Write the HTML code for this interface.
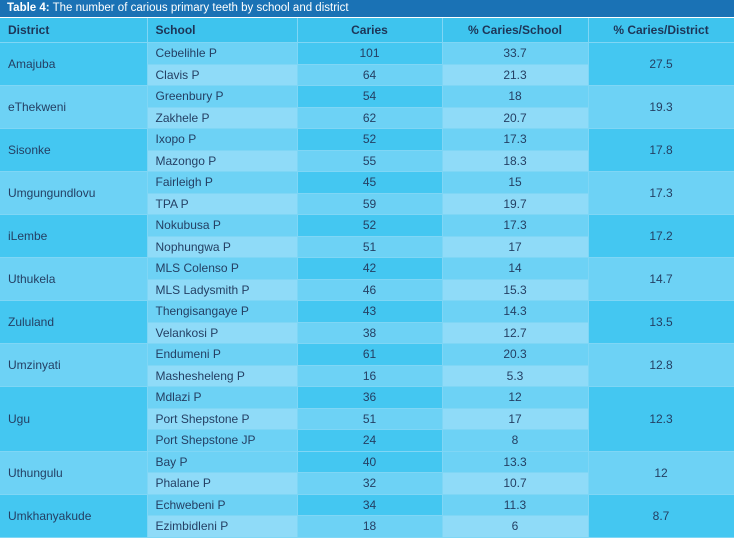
<!DOCTYPE html>
<html><head><meta charset="utf-8"><style>
body{margin:0;width:734px;height:539px;background:#fff;overflow:hidden;font-family:"Liberation Sans",sans-serif;}
#title{position:absolute;left:0;top:0;width:734px;height:17px;background:#1a72b5;color:#fff;font-size:11.5px;line-height:17px;padding-left:7px;box-sizing:border-box;}
table{position:absolute;left:0;top:18px;border-collapse:collapse;table-layout:fixed;width:734px;font-size:12px;color:#243f63;}
td,th{padding:0;border-bottom:1px solid #7fd6f5;border-right:1px solid #7fd6f5;height:20.5px;overflow:hidden;white-space:nowrap}
th{height:24px;background:#3ec4ee;font-weight:bold;color:#1d3557;text-align:center}
th.l{text-align:left;padding-left:8px}
.l{text-align:left;padding-left:8px}
.c{text-align:center}
.dk{background:#44c7f1}.lt{background:#6dd2f5}.xl{background:#8fdbf8}
</style></head><body>
<div id="title"><b>Table 4:</b> The number of carious primary teeth by school and district</div>
<table>
<colgroup><col style="width:147px"><col style="width:150px"><col style="width:145px"><col style="width:146px"><col style="width:146px"></colgroup>
<thead><tr><th class="l">District</th><th class="l">School</th><th>Caries</th><th>% Caries/School</th><th>% Caries/District</th></tr></thead>
<tbody id="tb"></tbody></table>
<script>
const districts=["Amajuba","eThekweni","Sisonke","Umgungundlovu","iLembe","Uthukela","Zululand","Umzinyati","Ugu","Uthungulu","Umkhanyakude"];
const districtPct=["27.5","19.3","17.8","17.3","17.2","14.7","13.5","12.8","12.3","12","8.7"];
const schools=[["Cebelihle P","Clavis P"],["Greenbury P","Zakhele P"],["Ixopo P","Mazongo P"],["Fairleigh P","TPA P"],["Nokubusa P","Nophungwa P"],["MLS Colenso P","MLS Ladysmith P"],["Thengisangaye P","Velankosi P"],["Endumeni P","Mashesheleng P"],["Mdlazi P","Port Shepstone P","Port Shepstone JP"],["Bay P","Phalane P"],["Echwebeni P","Ezimbidleni P"]];
const caries=[[101,64],[54,62],[52,55],[45,59],[52,51],[42,46],[43,38],[61,16],[36,51,24],[40,32],[34,18]];
const schoolPct=[["33.7","21.3"],["18","20.7"],["17.3","18.3"],["15","19.7"],["17.3","17"],["14","15.3"],["14.3","12.7"],["20.3","5.3"],["12","17","8"],["13.3","10.7"],["11.3","6"]];
const tb=document.getElementById('tb');
districts.forEach((d,g)=>{
  const gc=g%2===0?'dk':'lt';
  schools[g].forEach((s,i)=>{
    const tr=document.createElement('tr');
    
    
    const odd=i%2===0;
    let h='';
    if(i===0)h+=`<td class="l ${gc}" rowspan="${schools[g].length}">${d}</td>`;
    h+=`<td class="l ${odd?'lt':'xl'}">${s}</td>`;
    h+=`<td class="c ${odd?'dk':'lt'}">${caries[g][i]}</td>`;
    h+=`<td class="c ${odd?'lt':'xl'}">${schoolPct[g][i]}</td>`;
    if(i===0)h+=`<td class="c ${gc}" rowspan="${schools[g].length}">${districtPct[g]}</td>`;
    tr.innerHTML=h;
    tb.appendChild(tr);
  });
});
</script>
</body></html>
